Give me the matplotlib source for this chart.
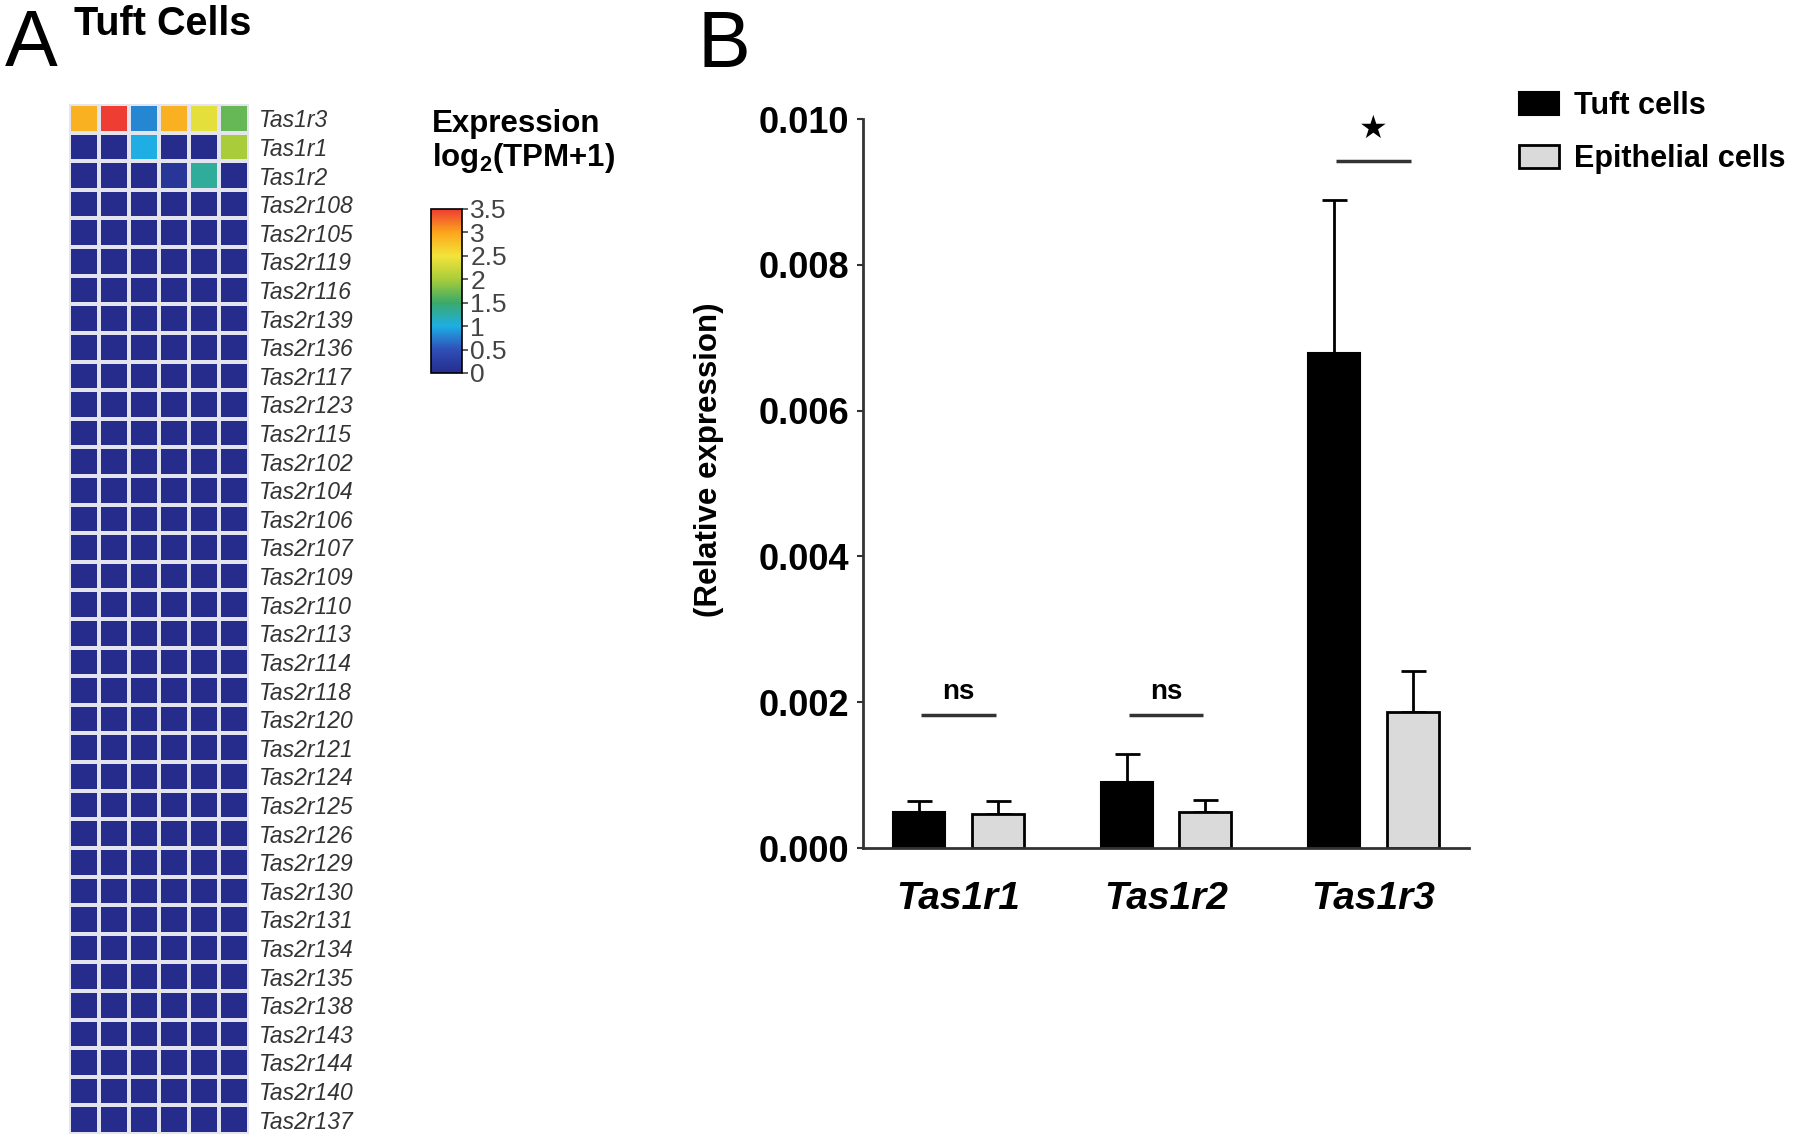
#!/usr/bin/env python
import numpy as np
import matplotlib
matplotlib.use("Agg")
import matplotlib.pyplot as plt
from matplotlib.colors import LinearSegmentedColormap
from matplotlib.ticker import FormatStrFormatter

plt.rcParams['font.family'] = ['Liberation Sans', 'DejaVu Sans']
plt.rcParams['mathtext.fontset'] = 'custom'
plt.rcParams['mathtext.rm'] = 'Liberation Sans'
plt.rcParams['mathtext.bf'] = 'Liberation Sans:bold'

#----------------------------------------------------------------------
# Data
#----------------------------------------------------------------------
genes = ["Tas1r3", "Tas1r1", "Tas1r2",
         "Tas2r108", "Tas2r105", "Tas2r119", "Tas2r116", "Tas2r139",
         "Tas2r136", "Tas2r117", "Tas2r123", "Tas2r115", "Tas2r102",
         "Tas2r104", "Tas2r106", "Tas2r107", "Tas2r109", "Tas2r110",
         "Tas2r113", "Tas2r114", "Tas2r118", "Tas2r120", "Tas2r121",
         "Tas2r124", "Tas2r125", "Tas2r126", "Tas2r129", "Tas2r130",
         "Tas2r131", "Tas2r134", "Tas2r135", "Tas2r138", "Tas2r143",
         "Tas2r144", "Tas2r140", "Tas2r137"]

tas1r3_row = [2.9, 3.5, 0.8, 2.9, 2.4, 1.7]
tas1r1_row = [0.0, 0.0, 1.0, 0.0, 0.0, 2.0]
tas1r2_row = [0.0, 0.0, 0.0, 0.15, 1.3, 0.0]
tas2r_rows = [[0.0, 0.0, 0.0, 0.0, 0.0, 0.0]] * 33

bar_genes      = ["Tas1r1", "Tas1r2", "Tas1r3"]
tuft_mean      = [0.00049, 0.00091, 0.00679]
tuft_err       = [0.00016, 0.00038, 0.00210]
epi_mean       = [0.00047, 0.00050, 0.00186]
epi_err        = [0.00018, 0.00016, 0.00057]
sig_labels     = ["ns", "ns", "\u2605"]
sig_line_y     = [0.00183, 0.00183, 0.00942]

cbar_ticks  = [0, 0.5, 1, 1.5, 2, 2.5, 3, 3.5]
cbar_labels = ["0", "0.5", "1", "1.5", "2", "2.5", "3", "3.5"]

heat = np.array([tas1r3_row, tas1r1_row, tas1r2_row] + tas2r_rows)

cmap = LinearSegmentedColormap.from_list(
    "expr", ["#262c8c", "#2f4fb8", "#1eaee4", "#3aaa6a",
             "#a8cc3a", "#f3e43a", "#fca61c", "#ee3d32"])

fig = plt.figure(figsize=(18, 11.36), dpi=100)

#----------------------------------------------------------------------
# A: heatmap
#----------------------------------------------------------------------
ax_h = fig.add_axes([69/1800, 2/1136, 180/1800, 1030/1136])
mesh = ax_h.pcolormesh(heat, cmap=cmap, vmin=0, vmax=3.5,
                       edgecolors="#e4e4ee", linewidth=1.6)
ax_h.set_xlim(0, heat.shape[1])
ax_h.set_ylim(heat.shape[0], 0)
ax_h.set_xticks([])
ax_h.yaxis.tick_right()
ax_h.set_yticks(np.arange(len(genes)) + 0.5)
ax_h.set_yticklabels(genes, fontstyle="italic", fontsize=16.5, color="#333333")
ax_h.tick_params(axis="y", length=0, pad=7)
for s in ax_h.spines.values():
    s.set_visible(False)

cax = fig.add_axes([431/1800, 1-373/1136, 31/1800, 164/1136])
cb = fig.colorbar(mesh, cax=cax, ticks=cbar_ticks)
cb.ax.set_yticklabels(cbar_labels, fontsize=19, color="#444444")
cb.ax.tick_params(length=4, width=1.2, pad=2, color="#444444")
cb.outline.set_linewidth(1.2)

fig.text(432/1800, 1-132/1136, "Expression", fontsize=22.5,
         fontweight="bold", va="baseline", ha="left")
fig.text(432/1800, 1-166/1136, r"log$_{\mathbf{2}}$(TPM+1)", fontsize=22.5,
         fontweight="bold", va="baseline", ha="left")

fig.text(5/1800, 1-66/1136, "A", fontsize=57, va="baseline", ha="left")
fig.text(74/1800, 1-35/1136, "Tuft Cells", fontsize=28.5,
         fontweight="bold", va="baseline", ha="left")
fig.text(697/1800, 1-67/1136, "B", fontsize=57, va="baseline", ha="left")

#----------------------------------------------------------------------
# B: bar chart
#----------------------------------------------------------------------
ax = fig.add_axes([863/1800, 1-848/1136, 606/1800, 729/1136])

x = np.arange(len(bar_genes))
off = 0.19
w = 0.25

ax.bar(x - off, tuft_mean, w, color="black", edgecolor="black",
       linewidth=1.5, label="Tuft cells", zorder=2)
ax.bar(x + off, epi_mean, w, color="#dadada", edgecolor="black",
       linewidth=2, label="Epithelial cells", zorder=2)
ax.errorbar(x - off, tuft_mean, yerr=[np.zeros(3), tuft_err], fmt="none",
            ecolor="black", elinewidth=2, capsize=9, capthick=2, zorder=1)
ax.errorbar(x + off, epi_mean, yerr=[np.zeros(3), epi_err], fmt="none",
            ecolor="black", elinewidth=2, capsize=9, capthick=2, zorder=1)

for i in range(len(bar_genes)):
    ax.plot([x[i] - 0.18, x[i] + 0.18], [sig_line_y[i], sig_line_y[i]],
            color="#333333", lw=2.5, solid_capstyle="butt")
    if sig_labels[i] == "ns":
        ax.text(x[i], sig_line_y[i] + 0.00013, "ns", ha="center",
                va="bottom", fontsize=20, fontweight="bold")
    else:
        ax.text(x[i], sig_line_y[i] + 0.00022, sig_labels[i], ha="center",
                va="bottom", fontsize=23, family=["DejaVu Sans"])

ax.set_xlim(-0.46, 2.46)
ax.set_ylim(0, 0.010)
ax.set_yticks([0, 0.002, 0.004, 0.006, 0.008, 0.010])
ax.yaxis.set_major_formatter(FormatStrFormatter("%.3f"))
ax.set_xticks(x)
ax.set_xticklabels(bar_genes, fontsize=28, fontweight="bold",
                   fontstyle="italic")
ax.tick_params(axis="x", length=0, pad=24)
ax.tick_params(axis="y", length=4, width=1.5, color="#333333", pad=6,
               labelsize=26)
for lab in ax.get_yticklabels():
    lab.set_fontweight("bold")
ax.spines["top"].set_visible(False)
ax.spines["right"].set_visible(False)
ax.spines["left"].set_linewidth(2)
ax.spines["bottom"].set_linewidth(2)
ax.spines["left"].set_color("#333333")
ax.spines["bottom"].set_color("#333333")

fig.text(709/1800, 1-460/1136, "(Relative expression)", rotation=90,
         fontsize=22.5, fontweight="bold", ha="center", va="center")

ax.legend(loc="upper left", bbox_to_anchor=(1519/1800, 1-91/1136),
          bbox_transform=fig.transFigure, frameon=False, borderpad=0,
          borderaxespad=0, handlelength=1.3, handleheight=0.8,
          handletextpad=0.5, labelspacing=0.75,
          prop={"size": 22, "weight": "bold"})

plt.savefig("out.png", dpi=100)
